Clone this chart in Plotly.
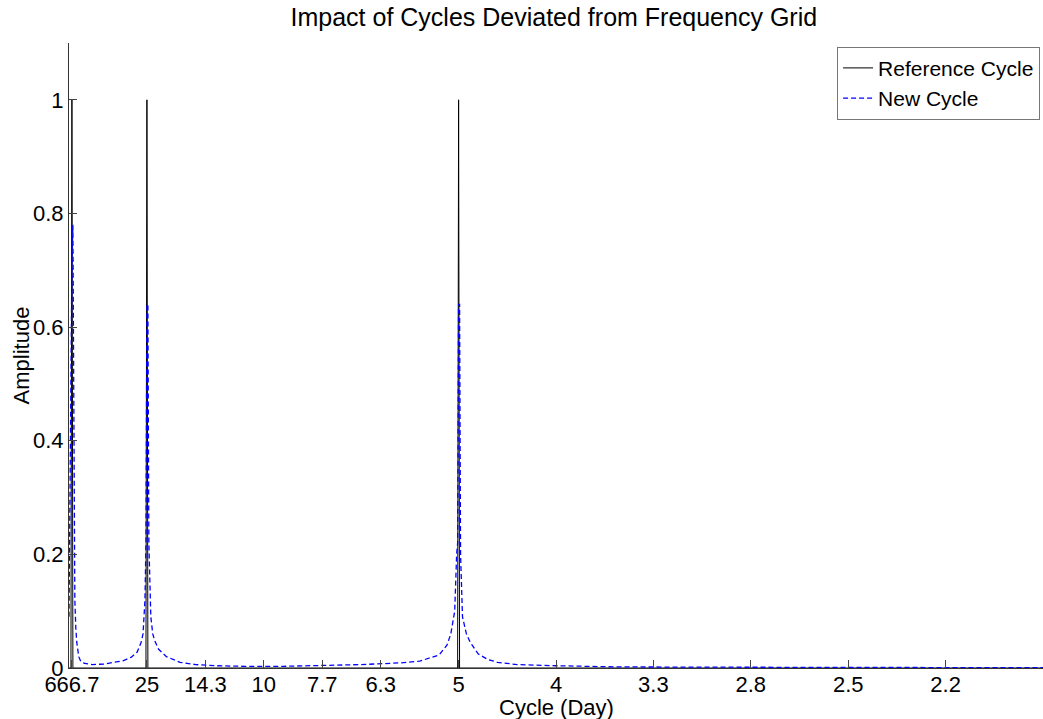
import plotly.graph_objects as go

# Reference cycle: exact grid spikes (frequency in 1/day)
ref_freq = [0.0, 0.001, 0.0015, 0.002, 0.0395, 0.04, 0.0405, 0.1995, 0.2, 0.2005, 0.5]
ref_amp = [0, 0, 1, 0, 0, 1, 0, 0, 1, 0, 0]

# New cycle: leaked spectrum
new_freq = [0.0, 0.0005, 0.001, 0.0015, 0.002, 0.0025, 0.003, 0.0035, 0.004, 0.005, 0.006,
            0.008, 0.012, 0.018, 0.024, 0.028, 0.032, 0.035, 0.037, 0.038, 0.039, 0.0395,
            0.04, 0.0405, 0.041, 0.0415, 0.042, 0.043, 0.044, 0.046, 0.05, 0.057, 0.065,
            0.075, 0.09, 0.11, 0.13, 0.15, 0.17, 0.18, 0.19, 0.194, 0.196, 0.198, 0.199,
            0.1995, 0.2, 0.2005, 0.201, 0.2015, 0.202, 0.204, 0.206, 0.21, 0.215, 0.22,
            0.23, 0.25, 0.28, 0.32, 0.38, 0.44, 0.5]
new_amp = [0.09, 0.3, 0.6, 0.72, 0.78, 0.3, 0.12, 0.07, 0.045, 0.02, 0.012,
           0.008, 0.006, 0.007, 0.01, 0.013, 0.019, 0.028, 0.045, 0.06, 0.12, 0.22,
           0.64, 0.64, 0.22, 0.12, 0.09, 0.06, 0.048, 0.033, 0.02, 0.01, 0.006,
           0.004, 0.003, 0.003, 0.004, 0.006, 0.009, 0.012, 0.023, 0.04, 0.06, 0.1, 0.2,
           0.22, 0.64, 0.64, 0.2, 0.12, 0.09, 0.06, 0.045, 0.025, 0.015, 0.01,
           0.006, 0.004, 0.002, 0.0015, 0.001, 0.0008, 0.0005]

tick_freq = [0.0015, 0.04, 0.07, 0.10, 0.13, 0.16, 0.20, 0.25, 0.30, 0.35, 0.40, 0.45]
tick_text = ["666.7", "25", "14.3", "10", "7.7", "6.3", "5", "4", "3.3", "2.8", "2.5", "2.2"]
y_ticks = [0, 0.2, 0.4, 0.6, 0.8, 1]
y_text = ["0", "0.2", "0.4", "0.6", "0.8", "1"]

FONT = "Liberation Sans, Arial, sans-serif"

fig = go.Figure()
fig.add_trace(go.Scatter(x=ref_freq, y=ref_amp, mode="lines", name="Reference Cycle",
                         line=dict(color="black", width=1)))
fig.add_trace(go.Scatter(x=new_freq, y=new_amp, mode="lines", name="New Cycle",
                         line=dict(color="#0000ff", width=1.3, dash="5px,3px")))

fig.update_layout(
    width=1043, height=719,
    margin=dict(l=69, r=0, t=43, b=51),
    paper_bgcolor="white", plot_bgcolor="white",
    font=dict(family=FONT, size=22, color="black"),
    title=dict(text="Impact of Cycles Deviated from Frequency Grid", x=0.531, xanchor="center",
               y=0.976, yanchor="middle", font=dict(size=25, family=FONT)),
    showlegend=True,
    legend=dict(x=0.997, y=0.994, xanchor="right", yanchor="top",
                bordercolor="#777", borderwidth=1, bgcolor="white",
                font=dict(size=21, family=FONT), itemwidth=30,
                tracegroupgap=0),
    annotations=[
        dict(text="Cycle (Day)", xref="paper", yref="paper", x=0.5, y=-0.0624,
             xanchor="center", yanchor="middle", showarrow=False,
             font=dict(size=22, family=FONT)),
        dict(text="Amplitude", xref="paper", yref="paper", x=-0.0483, y=0.5,
             xanchor="center", yanchor="middle", textangle=-90, showarrow=False,
             font=dict(size=22, family=FONT)),
    ],
)
fig.update_xaxes(range=[0, 0.5], tickmode="array", tickvals=tick_freq, ticktext=tick_text,
                 ticks="inside", ticklen=8, tickcolor="#444", tickwidth=1,
                 showline=True, linecolor="#333", linewidth=1, showgrid=False, zeroline=False,
                 mirror=False, tickfont=dict(size=22, family=FONT), ticklabelstandoff=-3)
fig.update_yaxes(range=[0, 1.1], tickmode="array", tickvals=y_ticks, ticktext=y_text,
                 ticks="inside", ticklen=8, tickcolor="#444", tickwidth=1,
                 showline=True, linecolor="#333", linewidth=1, showgrid=False, zeroline=False,
                 mirror=False, tickfont=dict(size=22, family=FONT))

fig.write_html("out.html")
